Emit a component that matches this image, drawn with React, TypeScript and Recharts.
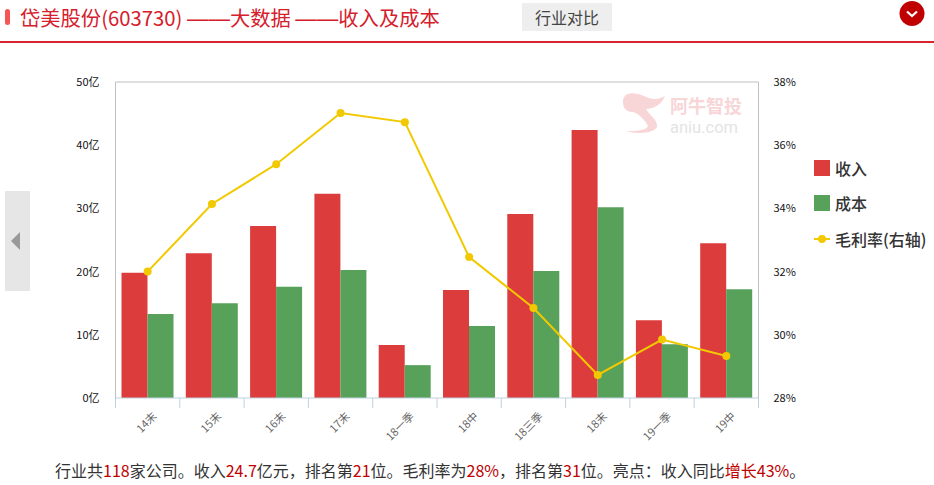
import { ComposedChart, Bar, Line, XAxis, YAxis, Legend, ReferenceLine } from "recharts";

const categories = ["14末", "15末", "16末", "17末", "18一季", "18中", "18三季", "18末", "19一季", "19中"];
const revenue = [19.8, 22.9, 27.2, 32.3, 8.4, 17.1, 29.1, 42.4, 12.3, 24.5];
const cost = [13.3, 15.0, 17.6, 20.25, 5.2, 11.4, 20.1, 30.2, 8.5, 17.2];
const margin = [32.0, 34.14, 35.4, 37.02, 36.73, 32.46, 30.85, 28.73, 29.85, 29.33];
const leftTicks = [0, 10, 20, 30, 40, 50];
const rightTicks = [28, 30, 32, 34, 36, 38];

const data = categories.map((name, i) => ({
  name,
  revenue: revenue[i],
  cost: cost[i],
  margin: margin[i],
}));

const FONT = '"Noto Sans CJK SC", "Noto Sans", sans-serif';
const RED = "#dc3c3c";
const GREEN = "#57a15a";
const YELLOW = "#f2c900";
const PLOT_WIDTH = 643;
const BAND = PLOT_WIDTH / categories.length;

const CategoryTick = (props: any) => {
  const { x, y, payload, index } = props;
  const top = y - 8;
  return (
    <g>
      <line x1={x - BAND / 2} x2={x - BAND / 2} y1={top} y2={top + 10} stroke="#c0d0e0" />
      {index === categories.length - 1 && (
        <line x1={x + BAND / 2} x2={x + BAND / 2} y1={top} y2={top + 10} stroke="#c0d0e0" />
      )}
      <text
        x={x + 10}
        y={top + 19}
        fontSize={11}
        fontFamily={FONT}
        fill="#666"
        textAnchor="end"
        transform={`rotate(-45 ${x + 10} ${top + 19})`}
      >
        {payload.value}
      </text>
    </g>
  );
};

const LegendBox = ({ payload }: any) => (
  <div style={{ fontFamily: FONT, fontSize: 16, fontWeight: 500, color: "#333" }}>
    {(payload || []).map((item: any) => (
      <div key={item.value} style={{ display: "flex", alignItems: "center", height: 35.5 }}>
        {item.type === "line" ? (
          <svg width={16} height={16} style={{ marginRight: 5 }}>
            <line x1={0} x2={16} y1={8} y2={8} stroke={item.color} strokeWidth={2} />
            <circle cx={8} cy={8} r={4} fill={item.color} />
          </svg>
        ) : (
          <span style={{ width: 16, height: 16, background: item.color, marginRight: 5 }} />
        )}
        <span>{item.value}</span>
      </div>
    ))}
  </div>
);

const Dash = () => <span style={{ fontFamily: '"Liberation Sans", sans-serif', fontSize: 21.5 }}>——</span>;

const Header = () => (
  <>
    <div style={{ position: "absolute", left: 5, top: 9, width: 5, height: 16, borderRadius: 2.5, background: "#f55555" }} />
    <div style={{ position: "absolute", left: 20, top: 3, lineHeight: "28px", fontSize: 20.3, color: "#d5202c", whiteSpace: "nowrap" }}>
      岱美股份(603730) <Dash />大数据 <Dash />收入及成本
    </div>
    <div style={{ position: "absolute", left: 522, top: 3, width: 90, height: 28, lineHeight: "28px", textAlign: "center", fontSize: 16, color: "#444", background: "#eeeeee" }}>
      行业对比
    </div>
    <svg style={{ position: "absolute", left: 899, top: 1 }} width={26} height={26}>
      <circle cx={13} cy={12.5} r={12.5} fill="#c00000" />
      <path d="M8 10.5 L13 15 L18 10.5" stroke="#fff" strokeWidth={2.2} fill="none" />
    </svg>
    <div style={{ position: "absolute", left: 0, top: 41, width: 934, height: 2, background: "#d9232d" }} />
  </>
);

const SideHandle = () => (
  <svg style={{ position: "absolute", left: 5, top: 191 }} width={25} height={100}>
    <rect width={25} height={100} fill="#e6e6e6" />
    <path d="M6 50 L15 41 L15 59 Z" fill="#999" />
  </svg>
);

const Watermark = () => (
  <svg style={{ position: "absolute", left: 620, top: 90 }} width={130} height={48}>
    <path
      d="M3 10 C5 2 14 2 24 6 C32 10 38 10 45 6 C42 14 34 19 26 19 C30 26 38 30 37 37 C33 44 16 44 6 41 C14 41 26 41 28 36 C24 28 16 22 12 22 C7 22 2 18 3 10 Z"
      fill="#f8d5d7"
    />
    <text x={50} y={23} fontSize={18} fontWeight={700} fontFamily={FONT} fill="#f8d5d7">阿牛智投</text>
    <text x={50} y={43} fontSize={16.5} fontFamily="Roboto, sans-serif" fill="#e4e4e4">aniu.com</text>
  </svg>
);

const Num = ({ children }: { children: string }) => <span style={{ color: "#c00000" }}>{children}</span>;

const Footer = () => (
  <div style={{ position: "absolute", left: 55, top: 459, height: 22, lineHeight: "22px", fontSize: 16, color: "#333", whiteSpace: "nowrap" }}>
    行业共<Num>118</Num>家公司。收入<Num>24.7</Num>亿元，排名第<Num>21</Num>位。毛利率为<Num>28%</Num>，排名第<Num>31</Num>位。亮点：收入同比<Num>增长43%</Num>。
  </div>
);

export default function App() {
  return (
    <div style={{ position: "absolute", left: 0, top: 0, width: 934, height: 485, background: "#fff", fontFamily: FONT, overflow: "hidden" }}>
      <Header />
      <SideHandle />
      <Watermark />
      <ComposedChart
        width={934}
        height={485}
        data={data}
        barSize={26}
        barGap={0}
        margin={{ top: 82, left: 55.5, right: 115.5, bottom: 37 }}
        style={{ position: "absolute", left: 0, top: 0 }}
      >
        <XAxis
          dataKey="name"
          height={50}
          interval={0}
          axisLine={{ stroke: "#c0d0e0" }}
          tickLine={false}
          tick={<CategoryTick />}
        />
        <YAxis
          yAxisId="left"
          width={60}
          domain={[0, 50]}
          ticks={leftTicks}
          tickFormatter={(v: number) => `${v}亿`}
          axisLine={{ stroke: "#c0c0c0" }}
          tickLine={false}
          tickMargin={10}
          tick={{ fontSize: 11, fill: "#111", fontFamily: FONT }}
        />
        <YAxis
          yAxisId="right"
          orientation="right"
          width={60}
          domain={[28, 38]}
          ticks={rightTicks}
          tickFormatter={(v: number) => `${v}%`}
          axisLine={{ stroke: "#c0c0c0" }}
          tickLine={false}
          tickMargin={9}
          tick={{ fontSize: 11, fill: "#111", fontFamily: FONT }}
        />
        <ReferenceLine yAxisId="left" y={50} stroke="#c0c0c0" />
        <Legend
          layout="vertical"
          align="center"
          verticalAlign="middle"
          itemSorter={null}
          content={<LegendBox />}
          wrapperStyle={{ position: "absolute", left: 814, top: 150, width: 120 }}
        />
        <Bar yAxisId="left" dataKey="revenue" name="收入" fill={RED} isAnimationActive={false} />
        <Bar yAxisId="left" dataKey="cost" name="成本" fill={GREEN} isAnimationActive={false} />
        <Line
          yAxisId="right"
          dataKey="margin"
          name="毛利率(右轴)"
          type="linear"
          stroke={YELLOW}
          strokeWidth={2}
          dot={{ r: 4, fill: YELLOW, stroke: YELLOW, strokeWidth: 0 }}
          isAnimationActive={false}
        />
      </ComposedChart>
      <Footer />
    </div>
  );
}
